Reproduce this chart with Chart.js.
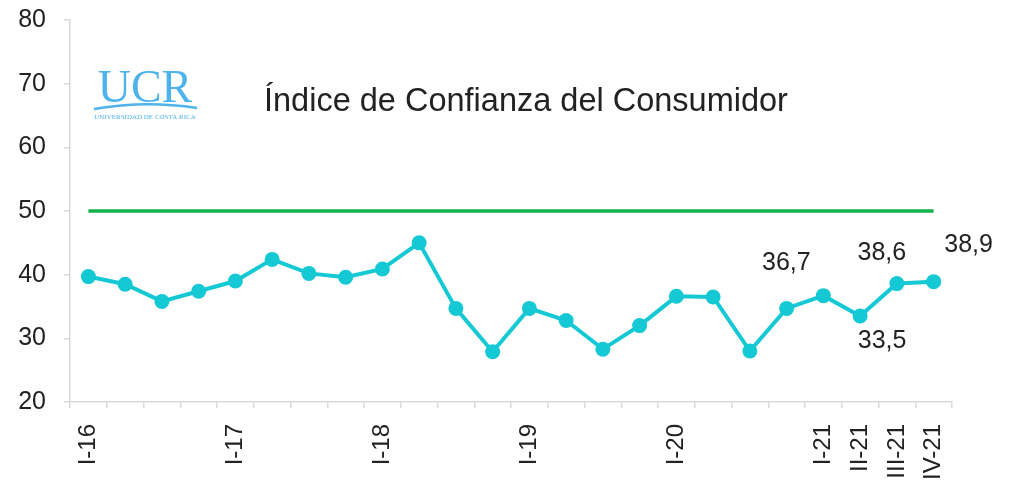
<!DOCTYPE html>
<html>
<head>
<meta charset="utf-8">
<script src="https://cdn.jsdelivr.net/npm/chart.js@4/dist/chart.umd.min.js"></script>
<style>
  html, body { margin: 0; padding: 0; background: #fff; }
  #wrap { width: 1010px; height: 493px; }
</style>
</head>
<body>
<div id="wrap"><canvas id="icc"></canvas></div>
<script>
// Quarters I-16 .. IV-21
const quarters = [
    'I-16', 'II-16', 'III-16', 'IV-16',
    'I-17', 'II-17', 'III-17', 'IV-17',
    'I-18', 'II-18', 'III-18', 'IV-18',
    'I-19', 'II-19', 'III-19', 'IV-19',
    'I-20', 'II-20', 'III-20', 'IV-20',
    'I-21', 'II-21', 'III-21', 'IV-21'
];
// Only these appear on the axis
const shownLabels = ['I-16', 'I-17', 'I-18', 'I-19', 'I-20', 'I-21', 'II-21', 'III-21', 'IV-21'];
const iccValues = [
    39.7, 38.5, 35.8, 37.4, 39.0, 42.4, 40.2, 39.6,
    40.9, 45.0, 34.7, 27.9, 34.7, 32.8, 28.3, 32.0,
    36.6, 36.5, 28.0, 34.7, 36.7, 33.5, 38.6, 38.9
];
const neutralLine = quarters.map(() => 50);
const labeledQuarters = ['I-21', 'II-21', 'III-21', 'IV-21'];
const yTicks = [20, 30, 40, 50, 60, 70, 80];

const fmt = v => v.toFixed(1).replace('.', ',');
const FONT = '"Liberation Sans", Arial, sans-serif';

// value labels, placed by hand like the original
const valueLabels = {
    id: 'valueLabels',
    afterDatasetsDraw(chart, args, opts) {
        const ctx = chart.ctx;
        const meta = chart.getDatasetMeta(0);
        ctx.save();
        ctx.font = '25px ' + FONT;
        ctx.fillStyle = '#222';
        ctx.textAlign = 'center';
        ctx.textBaseline = 'middle';
        labeledQuarters.forEach(function(q, k) {
            const i = quarters.indexOf(q);
            const pt = meta.data[i];
            const off = opts.offsets[k];
            ctx.fillText(fmt(iccValues[i]), pt.x + off[0], pt.y + off[1]);
        });
        ctx.restore();
    }
};

// title and UCR mark
const decorations = {
    id: 'decorations',
    afterDraw(chart) {
        const ctx = chart.ctx;
        ctx.save();
        ctx.fillStyle = '#222';
        ctx.font = '32.5px ' + FONT;
        ctx.textAlign = 'left';
        ctx.textBaseline = 'alphabetic';
        ctx.fillText('Índice de Confianza del Consumidor', 264, 111);

        ctx.fillStyle = '#4db3ea';
        ctx.strokeStyle = '#4db3ea';
        ctx.textAlign = 'center';
        ctx.font = '46px "Liberation Serif", "Times New Roman", serif';
        ctx.fillText('UCR', 145, 102);
        ctx.lineWidth = 2.5;
        ctx.beginPath();
        ctx.moveTo(94, 109);
        ctx.quadraticCurveTo(145, 100, 197, 108);
        ctx.stroke();
        ctx.font = '7px "Liberation Serif", serif';
        ctx.fillText('UNIVERSIDAD DE COSTA RICA', 145, 119);
        ctx.restore();
    }
};

document.addEventListener('DOMContentLoaded', function() {
    const ctx = document.getElementById('icc').getContext('2d');
    new Chart(ctx, {
        type: 'line',
        data: {
            labels: quarters,
            datasets: [{
                label: 'ICC',
                data: iccValues,
                borderColor: '#14c8d4',
                backgroundColor: '#14c8d4',
                borderWidth: 4,
                pointRadius: 7.5,
                pointBorderWidth: 0,
                tension: 0,
                fill: false
            }, {
                label: 'Neutral',
                data: neutralLine,
                borderColor: '#14b24b',
                borderWidth: 3.5,
                pointRadius: 0,
                fill: false
            }]
        },
        options: {
            responsive: true,
            maintainAspectRatio: false,
            animation: false,
            layout: { padding: { top: 20, right: 58, left: 0, bottom: 0 } },
            plugins: {
                legend: { display: false },
                tooltip: { enabled: false },
                valueLabels: { offsets: [[-37, -33], [22, 25], [-15, -30], [35, -37]] }
            },
            scales: {
                x: {
                    offset: true,
                    border: { color: '#d9d9d9', width: 1.5 },
                    grid: {
                        offset: true,
                        drawOnChartArea: false,
                        drawTicks: true,
                        tickLength: 6,
                        color: '#d9d9d9',
                        lineWidth: 1.5
                    },
                    ticks: {
                        autoSkip: false,
                        maxRotation: 90,
                        minRotation: 90,
                        color: '#222',
                        padding: 16,
                        font: { family: FONT, size: 24 },
                        callback: function(value) {
                            const lab = quarters[value];
                            return shownLabels.includes(lab) ? lab : '';
                        }
                    },
                    afterFit: function(scale) {
                        scale.height = 91;
                        scale.paddingLeft = 0;
                        scale.paddingRight = 0;
                    }
                },
                y: {
                    min: yTicks[0],
                    max: yTicks[yTicks.length - 1],
                    border: { color: '#d9d9d9', width: 1.5 },
                    grid: {
                        drawOnChartArea: false,
                        tickLength: 6,
                        color: '#d9d9d9',
                        lineWidth: 1.5
                    },
                    afterBuildTicks: function(scale) {
                        scale.ticks = yTicks.map(v => ({ value: v }));
                    },
                    ticks: {
                        color: '#222',
                        padding: 18,
                        font: { family: FONT, size: 25 }
                    },
                    afterFit: function(scale) {
                        scale.width = 70;
                        scale.paddingTop = 0;
                        scale.paddingBottom = 0;
                    }
                }
            }
        },
        plugins: [valueLabels, decorations]
    });
});
</script>
</body>
</html>
